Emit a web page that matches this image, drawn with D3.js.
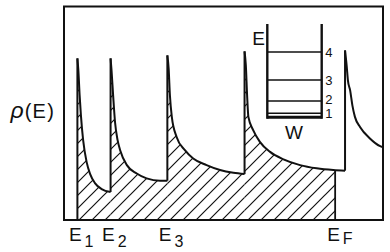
<!DOCTYPE html>
<html>
<head>
<meta charset="utf-8">
<script src="https://cdn.jsdelivr.net/npm/d3@7"></script>
<style>
  html, body { margin: 0; padding: 0; background: #fff; }
  svg { display: block; }
  text { font-family: "Liberation Sans", Arial, sans-serif; fill: #111; }
</style>
</head>
<body>
<svg id="chart" width="390" height="252"></svg>
<script>
// ---- data (arbitrary energy units 0..100, density units 0..100) ----
const subbandEdges = [4.2, 14.6, 32.4, 56.6, 88.1];
const edgeLabels = ["1", "2", "3"];
const fermiEnergy = 85.0;
const fermiLabel = "F";
const dos1 = [[4.2,75.7],[4.5,70.1],[4.9,58.4],[5.3,49.1],[6.0,37.4],[7.1,27.1],[8.2,21.5],[9.7,17.3],[11.8,14.5],[14.6,13.1]];
const dos2 = [[14.6,75.7],[14.9,70.1],[15.4,58.4],[16.0,45.8],[16.8,37.4],[17.6,32.7],[19.7,25.7],[22.8,21.8],[25.9,19.5],[30.1,18.4],[32.4,18.4]];
const dos3 = [[32.4,77.1],[32.8,71.0],[33.2,58.4],[33.8,48.3],[35.3,38.9],[37.9,32.7],[40.5,28.8],[44.7,25.7],[48.9,23.4],[53.1,22.1],[56.6,21.5]];
const dos4 = [[56.6,79.0],[57.0,72.4],[57.4,58.4],[57.8,48.3],[59.3,42.1],[61.4,36.6],[64.6,31.9],[68.8,28.4],[74.0,25.7],[79.2,24.2],[84.4,23.4],[88.1,23.1]];
const dos5 = [[88.1,79.4],[88.6,72.4],[89.0,65.4],[89.7,60.7],[90.4,53.7],[91.2,48.3],[92.8,43.6],[95.9,38.2],[99.1,34.6],[100,34.1]];
const wellLevels = [0.044, 0.176, 0.40, 0.70];
const wellLevelLabels = ["1", "2", "3", "4"];

const segments = [dos1, dos2, dos3, dos4, dos5];

const svg = d3.select("#chart");
const x = d3.scaleLinear().domain([0, 100]).range([64, 383]);
const y = d3.scaleLinear().domain([0, 100]).range([220, 6.5]);

// hatch pattern
const defs = svg.append("defs");
const pat = defs.append("pattern").attr("id", "hatch")
  .attr("patternUnits", "userSpaceOnUse").attr("width", 13).attr("height", 13);
pat.append("path").attr("d", "M-2,2 L2,-2 M0,13 L13,0 M11,15 L15,11")
  .attr("stroke", "#111").attr("stroke-width", 1.2);
defs.append("clipPath").attr("id", "fermiClip").append("rect")
  .attr("x", x(0)).attr("y", 0).attr("width", x(fermiEnergy) - x(0)).attr("height", y(0));

const area = d3.area().x(d => x(d[0])).y0(y(0)).y1(d => y(d[1])).curve(d3.curveMonotoneX);
const line = d3.line().x(d => x(d[0])).y(d => y(d[1])).curve(d3.curveMonotoneX);

// hatched occupied states
const gFill = svg.append("g").attr("clip-path", "url(#fermiClip)");
segments.forEach(seg => {
  gFill.append("path").attr("d", area(seg)).attr("fill", "url(#hatch)");
});

// DOS outline
segments.forEach((seg, i) => {
  const base = i === 0 ? 0 : segments[i - 1][segments[i - 1].length - 1][1];
  svg.append("line")
    .attr("x1", x(subbandEdges[i])).attr("x2", x(subbandEdges[i]))
    .attr("y1", y(base)).attr("y2", y(seg[0][1]))
    .attr("stroke", "#111").attr("stroke-width", 2);
  svg.append("path").attr("d", line(seg)).attr("fill", "none")
    .attr("stroke", "#111").attr("stroke-width", 2);
});

// Fermi level line
const rhoAtEF = (() => {
  for (let k = 0; k < dos4.length - 1; k++) {
    const a = dos4[k], b = dos4[k + 1];
    if (fermiEnergy >= a[0] && fermiEnergy <= b[0]) {
      return a[1] + (b[1] - a[1]) * (fermiEnergy - a[0]) / (b[0] - a[0]);
    }
  }
  return 0;
})();
svg.append("line")
  .attr("x1", x(fermiEnergy)).attr("x2", x(fermiEnergy))
  .attr("y1", y(0)).attr("y2", y(rhoAtEF))
  .attr("stroke", "#111").attr("stroke-width", 1.8);

// frame
svg.append("rect")
  .attr("x", x(0)).attr("y", y(100)).attr("width", x(100) - x(0)).attr("height", y(0) - y(100))
  .attr("fill", "none").attr("stroke", "#111").attr("stroke-width", 2);

// bottom labels
function subLabel(xpos, sub, dy) {
  const t = svg.append("text").attr("x", xpos).attr("y", 240.7)
    .attr("font-size", 19);
  t.append("tspan").text("E");
  t.append("tspan").attr("font-size", 16).attr("dx", 3).attr("dy", dy).text(sub);
}
edgeLabels.forEach((lab, i) => subLabel(x(subbandEdges[i]) - 8.5, lab, 6));
subLabel(x(fermiEnergy) - 8, fermiLabel, 3);

// y label
const yl = svg.append("text").attr("x", 55).attr("y", 117.5)
  .attr("text-anchor", "end").attr("font-size", 20);
yl.append("tspan").attr("font-style", "italic").attr("font-size", 23).text("ρ");
yl.append("tspan").attr("letter-spacing", 1.2).attr("dx", 1).text("(E)");

// inset quantum well
const wx = d3.scaleLinear().domain([0, 1]).range([267.3, 321.7]);
const wy = d3.scaleLinear().domain([0, 1]).range([117.3, 24]);
const gw = svg.append("g");
[0, 1].forEach(s => {
  gw.append("line").attr("x1", wx(s)).attr("x2", wx(s)).attr("y1", wy(0) + 1.5).attr("y2", wy(1))
    .attr("stroke", "#111").attr("stroke-width", 2.4);
});
gw.append("line").attr("x1", wx(0)).attr("x2", wx(1)).attr("y1", wy(0)).attr("y2", wy(0))
  .attr("stroke", "#111").attr("stroke-width", 3);
let prevLabelY = Infinity;
wellLevels.forEach((lv, i) => {
  gw.append("line").attr("x1", wx(0)).attr("x2", wx(1)).attr("y1", wy(lv)).attr("y2", wy(lv))
    .attr("stroke", "#111").attr("stroke-width", 1.5);
  const ly = Math.min(wy(lv) + 5, prevLabelY - 14.5);
  prevLabelY = ly;
  gw.append("text").attr("x", wx(1) + 3.5).attr("y", ly)
    .attr("font-size", 13).text(wellLevelLabels[i]);
});
gw.append("text").attr("x", 265).attr("y", 45).attr("text-anchor", "end")
  .attr("font-size", 19).text("E");
gw.append("text").attr("x", 294).attr("y", 138.5).attr("text-anchor", "middle")
  .attr("font-size", 19).text("W");
</script>
</body>
</html>
